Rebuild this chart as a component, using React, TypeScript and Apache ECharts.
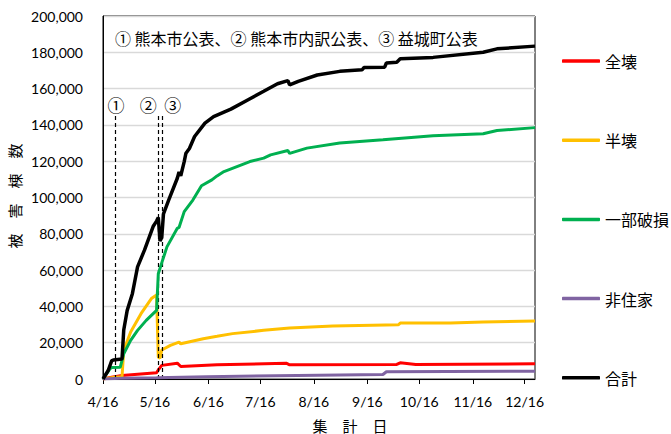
import React, { useEffect, useRef } from "react";
import * as echarts from "echarts";

// ---- Data (dates are M/D in 2016) ----
const xStart = "4/16";
const xEnd = "12/22";
const tickLabels = ["4/16", "5/16", "6/16", "7/16", "8/16", "9/16", "10/16", "11/16", "12/16"];

const seriesNames = ["全壊", "半壊", "一部破損", "非住家", "合計"];
const seriesColors = ["#FF0000", "#FFC000", "#00B050", "#8064A2", "#000000"];

const zenkaiDates = ["4/16", "4/21", "4/27", "5/17", "5/18", "5/20", "5/29", "5/31", "6/21", "7/31", "8/2", "10/3", "10/5", "10/14", "12/22"];
const zenkaiValues = [0, 1000, 1900, 3400, 5000, 7500, 8700, 6900, 7800, 8700, 7800, 8000, 8900, 8000, 8400];

const hankaiDates = ["4/16", "4/23", "4/27", "4/28", "5/2", "5/8", "5/14", "5/17", "5/18", "5/19", "5/20", "5/25", "5/30", "5/31", "6/13", "6/21", "6/30", "7/18", "8/2", "8/27", "10/4", "10/5", "11/3", "11/22", "12/22"];
const hankaiValues = [0, 1000, 1200, 15700, 25900, 36000, 44300, 46300, 12000, 11500, 16000, 18500, 20300, 19400, 22200, 23500, 25000, 26800, 28100, 29200, 29900, 30800, 30800, 31400, 32000];

const ichibuDates = ["4/16", "4/20", "4/21", "4/26", "4/28", "5/2", "5/6", "5/11", "5/17", "5/18", "5/20", "5/23", "5/29", "5/30", "6/2", "6/7", "6/12", "6/18", "6/21", "6/25", "7/10", "7/18", "7/22", "8/1", "8/2", "8/12", "8/31", "9/25", "10/24", "11/22", "11/30", "12/22"];
const ichibuValues = [0, 5600, 6300, 6500, 13900, 21300, 26800, 32300, 37800, 58000, 64000, 72800, 83000, 83500, 92200, 98600, 106500, 109700, 111900, 114300, 119800, 121700, 123500, 125900, 124300, 127200, 130000, 131800, 134000, 135100, 136900, 138500];

const hijukaDates = ["4/16", "4/26", "5/17", "6/15", "7/25", "9/25", "9/27", "12/22"];
const hijukaValues = [0, 400, 700, 1200, 1800, 2500, 4000, 4300];

const totalDates = ["4/16", "4/19", "4/21", "4/22", "4/27", "4/28", "4/30", "5/3", "5/6", "5/10", "5/15", "5/17", "5/18", "5/19", "5/20", "5/21", "5/24", "5/29", "5/30", "5/31", "6/2", "6/3", "6/5", "6/8", "6/14", "6/19", "6/29", "7/9", "7/18", "7/26", "8/1", "8/2", "8/7", "8/18", "8/31", "9/13", "9/14", "9/26", "9/27", "10/3", "10/5", "10/24", "11/22", "11/30", "12/22"];
const totalValues = [0, 4700, 10000, 10500, 11000, 27000, 37800, 47000, 61800, 71000, 84000, 87000, 89000, 76000, 78000, 91000, 98600, 110600, 114000, 112000, 119800, 124400, 127000, 133600, 141000, 144600, 148700, 153900, 158500, 162700, 164400, 162000, 164000, 167500, 169500, 170400, 171600, 171800, 174100, 174500, 176400, 177200, 180000, 181900, 183400];

const eventDates = ["4/23", "5/18", "5/20"];
const eventLabels = ["①", "②", "③"];
const eventTop = 145000;
const noteText = "① 熊本市公表、② 熊本市内訳公表、③ 益城町公表";

// ---- helpers ----
function dayIndex(md: string): number {
  const [m, d] = md.split("/").map(Number);
  return Math.round((Date.UTC(2016, m - 1, d) - Date.UTC(2016, 3, 16)) / 86400000);
}

const CJK = "'Noto Sans CJK JP', 'Noto Sans', sans-serif";
const NUM = "Lato, 'Noto Sans', sans-serif";

export default function App() {
  const ref = useRef<HTMLDivElement>(null);

  useEffect(() => {
    if (!ref.current) return;
    const chart = echarts.init(ref.current, undefined, { renderer: "svg" });

    const allDates = [zenkaiDates, hankaiDates, ichibuDates, hijukaDates, totalDates];
    const allValues = [zenkaiValues, hankaiValues, ichibuValues, hijukaValues, totalValues];
    const tickDays = tickLabels.map(dayIndex);
    const labelByDay: Record<number, string> = {};
    tickDays.forEach((d, i) => (labelByDay[d] = tickLabels[i]));

    const labelOffsets = [[1, 0], [-10, 0], [11, 0]];

    const series: any[] = seriesNames.map((name, i) => ({
      name,
      type: "line",
      symbol: "none",
      data: allDates[i].map((d, j) => [dayIndex(d), allValues[i][j]]),
      lineStyle: { color: seriesColors[i], width: i === 4 ? 3.5 : 3 },
      itemStyle: { color: seriesColors[i] },
      z: 3 + i,
    }));

    series[0].markLine = {
      silent: true,
      symbol: ["none", "none"],
      lineStyle: { color: "#000", type: [4, 3], width: 1.2 },
      data: eventDates.map((d, i) => [
        {
          coord: [dayIndex(d), 0],
          label: {
            show: true,
            position: "end",
            formatter: eventLabels[i],
            color: "#000",
            fontSize: 17,
            fontFamily: CJK,
            distance: 3,
            offset: labelOffsets[i],
          },
        },
        { coord: [dayIndex(d), eventTop] },
      ]),
    };

    chart.setOption({
      animation: false,
      backgroundColor: "#fff",
      grid: {
        left: 103,
        right: 136,
        top: 16,
        bottom: 55,
        show: true,
        borderColor: "#000",
        borderWidth: 1,
      },
      legend: {
        orient: "vertical",
        left: 562,
        top: 53,
        padding: 0,
        icon: "roundRect",
        itemWidth: 38,
        itemHeight: 3.5,
        itemGap: 63.2,
        selectedMode: false,
        data: seriesNames,
        textStyle: { fontFamily: CJK, fontSize: 16, color: "#000", lineHeight: 16 },
      },
      xAxis: {
        type: "value",
        min: dayIndex(xStart),
        max: dayIndex(xEnd),
        splitLine: { show: false },
        axisLine: { show: true, lineStyle: { color: "#000", width: 1 } },
        axisTick: { show: true, customValues: tickDays, length: 5, lineStyle: { color: "#000" } },
        axisLabel: {
          customValues: tickDays,
          formatter: (v: number) => labelByDay[Math.round(v)] ?? "",
          color: "#000",
          fontSize: 14,
          fontFamily: NUM,
          margin: 15,
        },
      },
      yAxis: {
        type: "value",
        min: 0,
        max: 200000,
        interval: 20000,
        axisLine: { show: true, lineStyle: { color: "#000", width: 1 } },
        axisTick: { show: false },
        splitLine: { show: true, lineStyle: { color: "#d9d9d9", width: 1.3 } },
        axisLabel: {
          formatter: (v: number) => v.toLocaleString("en-US"),
          color: "#000",
          fontSize: 14,
          fontFamily: NUM,
          margin: 20,
        },
      },
      graphic: [
        {
          type: "text",
          left: 115,
          top: 30,
          style: { text: noteText, font: `16px ${CJK}`, fill: "#000" },
        },
        {
          type: "text",
          x: 14,
          y: 196,
          rotation: Math.PI / 2,
          style: {
            text: "被　害　棟　数",
            font: `15px ${CJK}`,
            fill: "#000",
            align: "center",
            verticalAlign: "middle",
          },
        },
        {
          type: "text",
          x: 350,
          y: 425,
          style: {
            text: "集　計　日",
            font: `15px ${CJK}`,
            fill: "#000",
            align: "center",
            verticalAlign: "middle",
          },
        },
      ],
      series,
    });

    return () => chart.dispose();
  }, []);

  return (
    <div
      ref={ref}
      style={{ position: "fixed", left: 0, top: 0, width: 671, height: 434 }}
    />
  );
}
